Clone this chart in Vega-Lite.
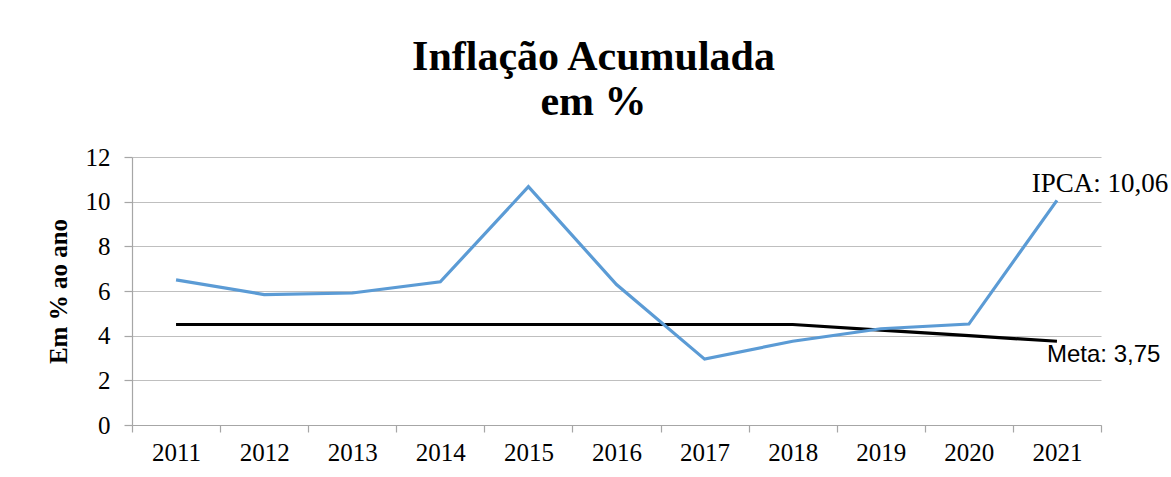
{
  "$schema": "https://vega.github.io/schema/vega-lite/v6.json",
  "width": 969,
  "height": 268,
  "autosize": "none",
  "padding": {"left": 132, "top": 157, "right": 70, "bottom": 52},
  "background": "white",
  "title": {
    "text": ["Inflação Acumulada", "em %"],
    "font": "Liberation Serif",
    "fontSize": 42,
    "fontWeight": "bold",
    "lineHeight": 45,
    "color": "black",
    "anchor": "middle",
    "dx": -23,
    "offset": 21
  },
  "datasets": {
    "ipca": [
      {"ano": "2011", "valor": 6.50},
      {"ano": "2012", "valor": 5.84},
      {"ano": "2013", "valor": 5.91},
      {"ano": "2014", "valor": 6.41},
      {"ano": "2015", "valor": 10.67},
      {"ano": "2016", "valor": 6.29},
      {"ano": "2017", "valor": 2.95},
      {"ano": "2018", "valor": 3.75},
      {"ano": "2019", "valor": 4.31},
      {"ano": "2020", "valor": 4.52},
      {"ano": "2021", "valor": 10.06}
    ],
    "meta": [
      {"ano": "2011", "valor": 4.5},
      {"ano": "2012", "valor": 4.5},
      {"ano": "2013", "valor": 4.5},
      {"ano": "2014", "valor": 4.5},
      {"ano": "2015", "valor": 4.5},
      {"ano": "2016", "valor": 4.5},
      {"ano": "2017", "valor": 4.5},
      {"ano": "2018", "valor": 4.5},
      {"ano": "2019", "valor": 4.25},
      {"ano": "2020", "valor": 4.0},
      {"ano": "2021", "valor": 3.75}
    ],
    "rotulos": [
      {"ano": "2021", "valor": 10.06, "texto": "IPCA: 10,06"}
    ],
    "rotulosMeta": [
      {"ano": "2021", "valor": 3.75, "texto": "Meta: 3,75"}
    ]
  },
  "config": {
    "view": {"stroke": null},
    "axis": {
      "labelFont": "Liberation Serif",
      "labelFontSize": 25,
      "labelColor": "black",
      "domainColor": "#a6a6a6",
      "tickColor": "#a6a6a6",
      "gridColor": "#bfbfbf",
      "domainWidth": 1.2,
      "tickWidth": 1.2,
      "gridWidth": 1.2
    }
  },
  "encoding": {
    "x": {
      "field": "ano",
      "type": "ordinal",
      "scale": {"type": "band", "paddingInner": 0, "paddingOuter": 0},
      "axis": {
        "title": null,
        "labelAngle": 0,
        "tickBand": "extent",
        "tickSize": 7,
        "labelPadding": 8,
        "grid": false
      }
    },
    "y": {
      "field": "valor",
      "type": "quantitative",
      "scale": {"domain": [0, 12], "nice": false, "zero": true},
      "axis": {
        "title": "Em % ao ano",
        "titleFont": "Liberation Serif",
        "titleFontSize": 25,
        "titleFontWeight": "bold",
        "titleColor": "black",
        "titlePadding": 14,
        "values": [0, 2, 4, 6, 8, 10, 12],
        "tickSize": 8,
        "labelPadding": 14,
        "grid": true
      }
    }
  },
  "layer": [
    {
      "data": {"name": "meta"},
      "mark": {"type": "line", "color": "black", "strokeWidth": 3.2}
    },
    {
      "data": {"name": "ipca"},
      "mark": {"type": "line", "color": "#5b9bd5", "strokeWidth": 3.2}
    },
    {
      "data": {"name": "rotulos"},
      "mark": {"type": "text", "font": "Liberation Serif", "fontSize": 27, "color": "black", "align": "center", "baseline": "alphabetic", "dx": 43, "dy": -8},
      "encoding": {"text": {"field": "texto"}}
    },
    {
      "data": {"name": "rotulosMeta"},
      "mark": {"type": "text", "font": "Liberation Sans", "fontSize": 24, "color": "black", "align": "left", "baseline": "alphabetic", "dx": -10, "dy": 21},
      "encoding": {"text": {"field": "texto"}}
    }
  ]
}
